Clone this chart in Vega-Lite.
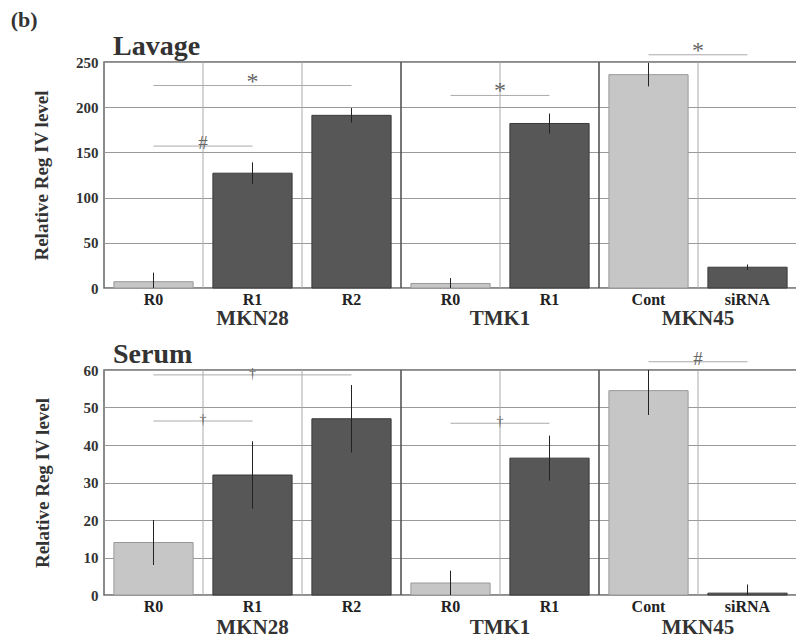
{
  "$schema": "https://vega.github.io/schema/vega-lite/v6.json",
  "padding": {"left": 10, "top": 9, "right": 0, "bottom": 0},
  "background": "white",
  "title": {"text": "(b)", "anchor": "start", "frame": "bounds", "fontSize": 22, "fontWeight": "bold", "font": "Liberation Serif", "color": "#333", "dx": -21, "offset": 0},
  "config": {
    "font": "Liberation Serif",
    "text": {"font": "Liberation Serif"},
    "view": {"stroke": "#666", "strokeWidth": 1.5},
    "axisX": {"labelFont": "Liberation Serif", "labelFontSize": 16, "labelFontWeight": "bold", "labelColor": "#222", "labelPadding": 3, "ticks": false, "tickSize": 0, "domain": false, "grid": false, "labelAngle": 0},
    "axisY": {"labelFont": "Liberation Serif", "titleFont": "Liberation Serif", "titleFontSize": 19, "titleFontWeight": "bold", "titleColor": "#333", "titlePadding": 24, "labelFontSize": 15, "labelFontWeight": "bold", "labelColor": "#333", "labelPadding": 6, "ticks": false, "tickSize": 0, "domain": false, "grid": true, "gridColor": "#999", "gridWidth": 1.2}
  },
  "spacing": 10,
  "datasets": {
    "bars": [
      {"panel": "Lavage", "id": "MKN28 R0", "shade": "light", "value": 7, "err": 10},
      {"panel": "Lavage", "id": "MKN28 R1", "shade": "dark", "value": 127, "err": 12},
      {"panel": "Lavage", "id": "MKN28 R2", "shade": "dark", "value": 191, "err": 8},
      {"panel": "Lavage", "id": "TMK1 R0", "shade": "light", "value": 5, "err": 6},
      {"panel": "Lavage", "id": "TMK1 R1", "shade": "dark", "value": 182, "err": 11},
      {"panel": "Lavage", "id": "MKN45 Cont", "shade": "light", "value": 236, "err": 13},
      {"panel": "Lavage", "id": "MKN45 siRNA", "shade": "dark", "value": 23, "err": 3},
      {"panel": "Serum", "id": "MKN28 R0", "shade": "light", "value": 14, "err": 6},
      {"panel": "Serum", "id": "MKN28 R1", "shade": "dark", "value": 32, "err": 9},
      {"panel": "Serum", "id": "MKN28 R2", "shade": "dark", "value": 47, "err": 9},
      {"panel": "Serum", "id": "TMK1 R0", "shade": "light", "value": 3.2, "err": 3.3},
      {"panel": "Serum", "id": "TMK1 R1", "shade": "dark", "value": 36.5, "err": 6},
      {"panel": "Serum", "id": "MKN45 Cont", "shade": "light", "value": 54.5, "err": 6.5},
      {"panel": "Serum", "id": "MKN45 siRNA", "shade": "dark", "value": 0.5, "err": 2.3}
    ],
    "sig": [
      {"panel": "Lavage", "from": "MKN28 R0", "to": "MKN28 R1", "at": "MKN28 R1", "span": "adj", "level": 157, "sym": "#"},
      {"panel": "Lavage", "from": "MKN28 R0", "to": "MKN28 R2", "at": "MKN28 R1", "span": "wide", "level": 224, "sym": "*"},
      {"panel": "Lavage", "from": "TMK1 R0", "to": "TMK1 R1", "at": "TMK1 R1", "span": "adj", "level": 213, "sym": "*"},
      {"panel": "Lavage", "from": "MKN45 Cont", "to": "MKN45 siRNA", "at": "MKN45 siRNA", "span": "adj", "level": 258, "sym": "*"},
      {"panel": "Serum", "from": "MKN28 R0", "to": "MKN28 R1", "at": "MKN28 R1", "span": "adj", "level": 46.4, "sym": "†"},
      {"panel": "Serum", "from": "MKN28 R0", "to": "MKN28 R2", "at": "MKN28 R1", "span": "wide", "level": 58.7, "sym": "†"},
      {"panel": "Serum", "from": "TMK1 R0", "to": "TMK1 R1", "at": "TMK1 R1", "span": "adj", "level": 45.8, "sym": "†"},
      {"panel": "Serum", "from": "MKN45 Cont", "to": "MKN45 siRNA", "at": "MKN45 siRNA", "span": "adj", "level": 62.2, "sym": "#"}
    ],
    "grid": [
      {"at": "MKN28 R1", "kind": "minor"},
      {"at": "MKN28 R2", "kind": "minor"},
      {"at": "TMK1 R0", "kind": "major"},
      {"at": "TMK1 R1", "kind": "minor"},
      {"at": "MKN45 Cont", "kind": "major"},
      {"at": "MKN45 siRNA", "kind": "minor"}
    ],
    "groups": [
      {"grp": "MKN28", "at": "MKN28 R1", "span": "odd"},
      {"grp": "TMK1", "at": "TMK1 R1", "span": "even"},
      {"grp": "MKN45", "at": "MKN45 siRNA", "span": "even"}
    ]
  },
  "vconcat": [
    {
      "width": 693,
      "height": 226,
      "title": {"text": "Lavage", "anchor": "start", "frame": "group", "font": "Liberation Serif", "fontSize": 28, "fontWeight": "bold", "color": "#333", "dx": 9, "baseline": "alphabetic", "offset": -44},
      "layer": [
        {
          "data": {"name": "grid"},
          "mark": {"type": "rule"},
          "encoding": {
            "x": {"field": "at", "type": "nominal", "bandPosition": 0, "title": null, "axis": {"labelExpr": "split(datum.label, ' ')[1]"}},
            "color": {"condition": {"test": "datum.kind === 'major'", "value": "#555"}, "value": "#aaa"},
            "strokeWidth": {"condition": {"test": "datum.kind === 'major'", "value": 1.6}, "value": 1}
          }
        },
        {
          "data": {"name": "bars"},
          "transform": [{"filter": "datum.panel === 'Lavage'"}],
          "mark": {"type": "bar", "width": {"band": 0.8}, "strokeWidth": 1},
          "encoding": {
            "x": {"field": "id", "type": "nominal", "sort": null, "title": null,
              "scale": {"type": "band", "domain": ["MKN28 R0", "MKN28 R1", "MKN28 R2", "TMK1 R0", "TMK1 R1", "MKN45 Cont", "MKN45 siRNA"], "paddingInner": 0, "paddingOuter": 0},
              "axis": {"labelExpr": "split(datum.label, ' ')[1]"}},
            "y": {"field": "value", "type": "quantitative", "title": "Relative Reg IV level", "scale": {"domain": [0, 250], "nice": false}, "axis": {"values": [0, 50, 100, 150, 200, 250]}},
            "fill": {"condition": {"test": "datum.shade === 'light'", "value": "#c6c6c6"}, "value": "#575757"},
            "stroke": {"condition": {"test": "datum.shade === 'light'", "value": "#999"}, "value": "#3a3a3a"}
          }
        },
        {
          "data": {"name": "bars"},
          "transform": [{"filter": "datum.panel === 'Lavage'"}],
          "mark": {"type": "errorbar", "ticks": false, "color": "#222", "clip": true, "thickness": 1},
          "encoding": {
            "x": {"field": "id", "type": "nominal", "title": null, "axis": {"labelExpr": "split(datum.label, ' ')[1]"}},
            "y": {"field": "value", "type": "quantitative", "title": "Relative Reg IV level", "scale": {"domain": [0, 250], "nice": false}, "axis": {"values": [0, 50, 100, 150, 200, 250]}},
            "yError": {"field": "err"}
          }
        },
        {
          "data": {"name": "sig"},
          "transform": [{"filter": "datum.panel === 'Lavage'"}],
          "mark": {"type": "rule", "color": "#aaa", "strokeWidth": 1},
          "encoding": {
            "x": {"field": "from", "type": "nominal", "title": null, "axis": {"labelExpr": "split(datum.label, ' ')[1]"}},
            "x2": {"field": "to"},
            "y": {"field": "level", "type": "quantitative", "title": "Relative Reg IV level", "scale": {"domain": [0, 250], "nice": false}, "axis": {"values": [0, 50, 100, 150, 200, 250]}}
          }
        },
        {
          "data": {"name": "sig"},
          "transform": [{"filter": "datum.panel === 'Lavage' && datum.span === 'adj'"}],
          "mark": {"type": "text", "font": "Liberation Serif", "color": "#666", "baseline": "alphabetic", "dy": 3},
          "encoding": {
            "x": {"field": "at", "type": "nominal", "bandPosition": 0, "title": null, "axis": {"labelExpr": "split(datum.label, ' ')[1]"}},
            "y": {"field": "level", "type": "quantitative", "title": "Relative Reg IV level", "scale": {"domain": [0, 250], "nice": false}, "axis": {"values": [0, 50, 100, 150, 200, 250]}},
            "text": {"field": "sym"},
            "size": {"field": "sym", "type": "nominal", "scale": {"domain": ["*", "#", "†"], "range": [24, 14, 16]}, "legend": null}
          }
        },
        {
          "data": {"name": "sig"},
          "transform": [{"filter": "datum.panel === 'Lavage' && datum.span === 'wide'"}],
          "mark": {"type": "text", "font": "Liberation Serif", "color": "#666", "baseline": "alphabetic", "dy": 3},
          "encoding": {
            "x": {"field": "at", "type": "nominal", "bandPosition": 0.5, "title": null, "axis": {"labelExpr": "split(datum.label, ' ')[1]"}},
            "y": {"field": "level", "type": "quantitative", "title": "Relative Reg IV level", "scale": {"domain": [0, 250], "nice": false}, "axis": {"values": [0, 50, 100, 150, 200, 250]}},
            "text": {"field": "sym"},
            "size": {"field": "sym", "type": "nominal", "scale": {"domain": ["*", "#", "†"], "range": [24, 14, 16]}, "legend": null}
          }
        },
        {
          "data": {"name": "groups"},
          "transform": [{"filter": "datum.span === 'odd'"}],
          "mark": {"type": "text", "font": "Liberation Serif", "fontSize": 21, "fontWeight": "bold", "color": "#333", "baseline": "alphabetic", "dy": 37},
          "encoding": {
            "x": {"field": "at", "type": "nominal", "bandPosition": 0.5, "title": null, "axis": {"labelExpr": "split(datum.label, ' ')[1]"}},
            "y": {"datum": 0, "type": "quantitative", "title": "Relative Reg IV level", "scale": {"domain": [0, 250], "nice": false}, "axis": {"values": [0, 50, 100, 150, 200, 250]}},
            "text": {"field": "grp"}
          }
        },
        {
          "data": {"name": "groups"},
          "transform": [{"filter": "datum.span === 'even'"}],
          "mark": {"type": "text", "font": "Liberation Serif", "fontSize": 21, "fontWeight": "bold", "color": "#333", "baseline": "alphabetic", "dy": 37},
          "encoding": {
            "x": {"field": "at", "type": "nominal", "bandPosition": 0, "title": null, "axis": {"labelExpr": "split(datum.label, ' ')[1]"}},
            "y": {"datum": 0, "type": "quantitative", "title": "Relative Reg IV level", "scale": {"domain": [0, 250], "nice": false}, "axis": {"values": [0, 50, 100, 150, 200, 250]}},
            "text": {"field": "grp"}
          }
        }
      ]
    },
    {
      "width": 693,
      "height": 225,
      "title": {"text": "Serum", "anchor": "start", "frame": "group", "font": "Liberation Serif", "fontSize": 28, "fontWeight": "bold", "color": "#333", "dx": 9, "baseline": "alphabetic", "offset": -41},
      "layer": [
        {
          "data": {"name": "grid"},
          "mark": {"type": "rule"},
          "encoding": {
            "x": {"field": "at", "type": "nominal", "bandPosition": 0, "title": null, "axis": {"labelExpr": "split(datum.label, ' ')[1]"}},
            "color": {"condition": {"test": "datum.kind === 'major'", "value": "#555"}, "value": "#aaa"},
            "strokeWidth": {"condition": {"test": "datum.kind === 'major'", "value": 1.6}, "value": 1}
          }
        },
        {
          "data": {"name": "bars"},
          "transform": [{"filter": "datum.panel === 'Serum'"}],
          "mark": {"type": "bar", "width": {"band": 0.8}, "strokeWidth": 1},
          "encoding": {
            "x": {"field": "id", "type": "nominal", "sort": null, "title": null,
              "scale": {"type": "band", "domain": ["MKN28 R0", "MKN28 R1", "MKN28 R2", "TMK1 R0", "TMK1 R1", "MKN45 Cont", "MKN45 siRNA"], "paddingInner": 0, "paddingOuter": 0},
              "axis": {"labelExpr": "split(datum.label, ' ')[1]"}},
            "y": {"field": "value", "type": "quantitative", "title": "Relative Reg IV level", "scale": {"domain": [0, 60], "nice": false}, "axis": {"values": [0, 10, 20, 30, 40, 50, 60], "titlePadding": 31}},
            "fill": {"condition": {"test": "datum.shade === 'light'", "value": "#c6c6c6"}, "value": "#575757"},
            "stroke": {"condition": {"test": "datum.shade === 'light'", "value": "#999"}, "value": "#3a3a3a"}
          }
        },
        {
          "data": {"name": "bars"},
          "transform": [{"filter": "datum.panel === 'Serum'"}],
          "mark": {"type": "errorbar", "ticks": false, "color": "#222", "clip": true, "thickness": 1},
          "encoding": {
            "x": {"field": "id", "type": "nominal", "title": null, "axis": {"labelExpr": "split(datum.label, ' ')[1]"}},
            "y": {"field": "value", "type": "quantitative", "title": "Relative Reg IV level", "scale": {"domain": [0, 60], "nice": false}, "axis": {"values": [0, 10, 20, 30, 40, 50, 60], "titlePadding": 31}},
            "yError": {"field": "err"}
          }
        },
        {
          "data": {"name": "sig"},
          "transform": [{"filter": "datum.panel === 'Serum'"}],
          "mark": {"type": "rule", "color": "#aaa", "strokeWidth": 1},
          "encoding": {
            "x": {"field": "from", "type": "nominal", "title": null, "axis": {"labelExpr": "split(datum.label, ' ')[1]"}},
            "x2": {"field": "to"},
            "y": {"field": "level", "type": "quantitative", "title": "Relative Reg IV level", "scale": {"domain": [0, 60], "nice": false}, "axis": {"values": [0, 10, 20, 30, 40, 50, 60], "titlePadding": 31}}
          }
        },
        {
          "data": {"name": "sig"},
          "transform": [{"filter": "datum.panel === 'Serum' && datum.span === 'adj'"}],
          "mark": {"type": "text", "font": "Liberation Serif", "color": "#666", "baseline": "alphabetic", "dy": 3},
          "encoding": {
            "x": {"field": "at", "type": "nominal", "bandPosition": 0, "title": null, "axis": {"labelExpr": "split(datum.label, ' ')[1]"}},
            "y": {"field": "level", "type": "quantitative", "title": "Relative Reg IV level", "scale": {"domain": [0, 60], "nice": false}, "axis": {"values": [0, 10, 20, 30, 40, 50, 60], "titlePadding": 31}},
            "text": {"field": "sym"},
            "size": {"field": "sym", "type": "nominal", "scale": {"domain": ["*", "#", "†"], "range": [24, 14, 16]}, "legend": null}
          }
        },
        {
          "data": {"name": "sig"},
          "transform": [{"filter": "datum.panel === 'Serum' && datum.span === 'wide'"}],
          "mark": {"type": "text", "font": "Liberation Serif", "color": "#666", "baseline": "alphabetic", "dy": 3},
          "encoding": {
            "x": {"field": "at", "type": "nominal", "bandPosition": 0.5, "title": null, "axis": {"labelExpr": "split(datum.label, ' ')[1]"}},
            "y": {"field": "level", "type": "quantitative", "title": "Relative Reg IV level", "scale": {"domain": [0, 60], "nice": false}, "axis": {"values": [0, 10, 20, 30, 40, 50, 60], "titlePadding": 31}},
            "text": {"field": "sym"},
            "size": {"field": "sym", "type": "nominal", "scale": {"domain": ["*", "#", "†"], "range": [24, 14, 16]}, "legend": null}
          }
        },
        {
          "data": {"name": "groups"},
          "transform": [{"filter": "datum.span === 'odd'"}],
          "mark": {"type": "text", "font": "Liberation Serif", "fontSize": 21, "fontWeight": "bold", "color": "#333", "baseline": "alphabetic", "dy": 39},
          "encoding": {
            "x": {"field": "at", "type": "nominal", "bandPosition": 0.5, "title": null, "axis": {"labelExpr": "split(datum.label, ' ')[1]"}},
            "y": {"datum": 0, "type": "quantitative", "title": "Relative Reg IV level", "scale": {"domain": [0, 60], "nice": false}, "axis": {"values": [0, 10, 20, 30, 40, 50, 60], "titlePadding": 31}},
            "text": {"field": "grp"}
          }
        },
        {
          "data": {"name": "groups"},
          "transform": [{"filter": "datum.span === 'even'"}],
          "mark": {"type": "text", "font": "Liberation Serif", "fontSize": 21, "fontWeight": "bold", "color": "#333", "baseline": "alphabetic", "dy": 39},
          "encoding": {
            "x": {"field": "at", "type": "nominal", "bandPosition": 0, "title": null, "axis": {"labelExpr": "split(datum.label, ' ')[1]"}},
            "y": {"datum": 0, "type": "quantitative", "title": "Relative Reg IV level", "scale": {"domain": [0, 60], "nice": false}, "axis": {"values": [0, 10, 20, 30, 40, 50, 60], "titlePadding": 31}},
            "text": {"field": "grp"}
          }
        }
      ]
    }
  ]
}
